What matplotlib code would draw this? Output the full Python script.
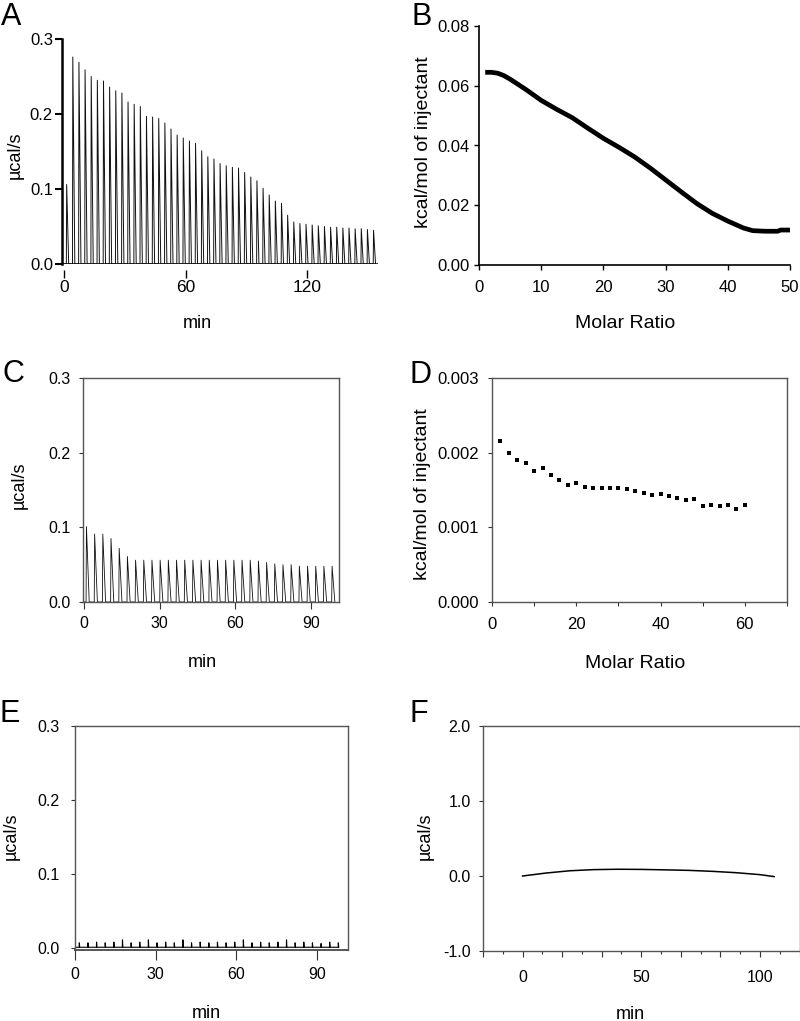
import numpy as np
import matplotlib
matplotlib.use('Agg')
from matplotlib import pyplot as plt
from matplotlib.ticker import MultipleLocator, FixedLocator, FuncFormatter

plt.rcParams['font.family'] = ['Liberation Sans', 'DejaVu Sans']
plt.rcParams['axes.unicode_minus'] = False

# ---- data ----
# A: raw thermogram, one peak per injection (min, ucal/s)
a_first, a_step = 1.3, 3.03
a_heights = [0.106, 0.276, 0.269, 0.259, 0.250, 0.245, 0.244, 0.236, 0.231, 0.228,
             0.216, 0.213, 0.210, 0.197, 0.196, 0.194, 0.188, 0.180, 0.172, 0.168,
             0.164, 0.161, 0.151, 0.143, 0.140, 0.134, 0.131, 0.129, 0.128, 0.122,
             0.116, 0.111, 0.101, 0.092, 0.084, 0.081, 0.065, 0.056, 0.054, 0.053,
             0.052, 0.051, 0.050, 0.049, 0.049, 0.048, 0.048, 0.047, 0.047, 0.046, 0.045]

# B: integrated heat vs molar ratio
b_ratio = [1, 2, 3, 4, 5, 7.5, 10, 12.5, 15, 17.5, 20, 22.5, 25, 27.5, 30, 32.5, 35,
           37.5, 40, 42.5, 44, 46, 48, 48.5, 50]
b_heat = [0.0645, 0.0645, 0.0642, 0.0634, 0.0622, 0.0588, 0.0551, 0.0521, 0.0493,
          0.0458, 0.0424, 0.0394, 0.0362, 0.0325, 0.0285, 0.0245, 0.0206, 0.0173,
          0.0147, 0.0124, 0.0115, 0.0113, 0.0113, 0.0117, 0.0117]

# C: raw thermogram
c_first, c_step = 1.06, 3.24
c_heights = [0.101, 0.091, 0.091, 0.085, 0.072, 0.061, 0.056, 0.056, 0.056, 0.056,
             0.056, 0.056, 0.056, 0.056, 0.056, 0.056, 0.056, 0.056, 0.056, 0.056,
             0.056, 0.055, 0.053, 0.051, 0.050, 0.050, 0.048, 0.048, 0.048, 0.048, 0.048]

# D: integrated heat vs molar ratio
d_ratio = [2, 4, 6, 8, 10, 12, 14, 16, 18, 20, 22, 24, 26, 28, 30, 32, 34, 36, 38, 40,
           42, 44, 46, 48, 50, 52, 54, 56, 58, 60]
d_heat = [0.00216, 0.00199, 0.00190, 0.00186, 0.00176, 0.00179, 0.00170, 0.00164,
          0.00157, 0.00159, 0.00154, 0.00153, 0.00153, 0.00153, 0.00153, 0.00151,
          0.00149, 0.00146, 0.00143, 0.00144, 0.00142, 0.00139, 0.00136, 0.00138,
          0.00128, 0.00130, 0.00128, 0.00130, 0.00125, 0.00130]

# E: control thermogram (tiny spikes)
e_first, e_step = 1.6, 3.21
e_base = 0.0012
e_heights = [0.006, 0.006, 0.007, 0.006, 0.007, 0.010, 0.006, 0.007, 0.010, 0.006,
             0.007, 0.006, 0.010, 0.006, 0.007, 0.006, 0.007, 0.006, 0.007, 0.010,
             0.006, 0.007, 0.006, 0.007, 0.010, 0.006, 0.007, 0.006, 0.005, 0.007, 0.006]

# F: baseline drift
f_time = [0, 5, 10, 20, 30, 40, 50, 60, 70, 80, 90, 100, 106]
f_power = [0.0, 0.02, 0.04, 0.07, 0.085, 0.09, 0.088, 0.082, 0.075, 0.062, 0.044, 0.018, -0.008]


def trace(first, step, heights, x0, base=0.0, rise=0.2, fall=1.0):
    xs, ys = [x0], [base]
    for i, h in enumerate(heights):
        t = first + i * step
        xs += [t - rise, t, t + fall]
        ys += [base, base + h, base]
    return np.array(xs), np.array(ys)


fig = plt.figure(figsize=(8, 10.21), dpi=100)
GRAY = '#555555'


def box(ax, fs):
    for s in ax.spines.values():
        s.set_color(GRAY)
        s.set_linewidth(1.0)
    ax.tick_params(labelsize=fs, width=0.8, color='#333333')


# ---------- A ----------
axA = fig.add_axes([62 / 800, 1 - 264 / 1021, 316 / 800, 225 / 1021])
x, y = trace(a_first, a_step, a_heights, -1, rise=0.15, fall=1.0)
axA.plot(x, y, color='#111111', lw=0.7)
axA.axhline(0, color='black', lw=1.8)
axA.set_xlim(-1, 155)
axA.set_ylim(0, 0.3)
axA.spines['top'].set_visible(False)
axA.spines['right'].set_visible(False)
axA.spines['bottom'].set_position(('outward', 4))
axA.spines['bottom'].set_visible(False)
axA.spines['left'].set_linewidth(1.8)
axA.set_xticks([0, 60, 120])
axA.set_yticks([0, 0.1, 0.2, 0.3])
axA.yaxis.set_major_formatter(FuncFormatter(lambda v, p: f'{v:.1f}'))
axA.tick_params(axis='y', length=5, width=1.5, pad=1.5, labelsize=12)
axA.tick_params(axis='x', length=5.5, width=1.0, pad=2, labelsize=12.5)
axA.set_xlabel('min', fontsize=13, va='baseline')
axA.xaxis.set_label_coords(0.427, -0.284)
axA.set_ylabel('µcal/s', fontsize=13, va='center')
axA.yaxis.set_label_coords(-0.147, 0.484)

# ---------- B ----------
axB = fig.add_axes([479 / 800, 1 - 265 / 1021, 311 / 800, 239 / 1021])
axB.plot(b_ratio, b_heat, color='black', lw=3.4, solid_capstyle='butt')
axB.set_xlim(0, 50)
axB.set_ylim(0, 0.08)
axB.spines['top'].set_visible(False)
axB.spines['right'].set_visible(False)
axB.spines['left'].set_linewidth(1.2)
axB.spines['bottom'].set_linewidth(1.2)
axB.set_xticks(range(0, 51, 10))
axB.set_yticks([0, 0.02, 0.04, 0.06, 0.08])
axB.yaxis.set_major_formatter(FuncFormatter(lambda v, p: f'{v:.2f}'))
axB.tick_params(length=3.5, width=1.0, labelsize=12)
axB.tick_params(axis='x', pad=7)
axB.tick_params(axis='y', pad=3)
axB.set_xlabel('Molar Ratio', fontsize=14, va='baseline')
axB.xaxis.set_label_coords(0.47, -0.264)
axB.set_ylabel('kcal/mol of injectant', fontsize=14, va='center')
axB.yaxis.set_label_coords(-0.18, 0.515)

# ---------- C ----------
axC = fig.add_axes([83 / 800, 1 - 602 / 1021, 256 / 800, 224 / 1021])
x, y = trace(c_first, c_step, c_heights, -0.3, rise=0.15, fall=1.1)
axC.plot(x, y, color='#111111', lw=0.6)
axC.set_xlim(-0.3, 101)
axC.set_ylim(0, 0.3)
box(axC, 11.5)
axC.set_xticks([0, 30, 60, 90])
axC.set_yticks([0, 0.1, 0.2, 0.3])
axC.yaxis.set_major_formatter(FuncFormatter(lambda v, p: f'{v:.1f}'))
axC.tick_params(axis='x', length=5, pad=5)
axC.tick_params(axis='y', length=3, pad=6)
axC.set_xlabel('min', fontsize=13, va='baseline')
axC.xaxis.set_label_coords(0.465, -0.29)
axC.set_ylabel('µcal/s', fontsize=13, va='center')
axC.yaxis.set_label_coords(-0.25, 0.522)

# ---------- D ----------
axD = fig.add_axes([492 / 800, 1 - 602 / 1021, 295 / 800, 224 / 1021])
axD.plot(d_ratio, d_heat, 's', color='black', ms=2.6, mew=0)
axD.set_xlim(0, 70)
axD.set_ylim(0, 0.003)
box(axD, 12)
axD.xaxis.set_major_locator(FixedLocator([0, 20, 40, 60]))
axD.xaxis.set_minor_locator(FixedLocator([10, 30, 50, 70]))
axD.set_yticks([0, 0.001, 0.002, 0.003])
axD.yaxis.set_major_formatter(FuncFormatter(lambda v, p: f'{v:.3f}'))
axD.tick_params(axis='x', which='both', length=3, pad=8)
axD.tick_params(axis='y', length=3, pad=6.5)
axD.set_xlabel('Molar Ratio', fontsize=14, va='baseline')
axD.xaxis.set_label_coords(0.485, -0.295)
axD.set_ylabel('kcal/mol of injectant', fontsize=14, va='center')
axD.yaxis.set_label_coords(-0.234, 0.482)

# ---------- E ----------
axE = fig.add_axes([75 / 800, 1 - 950 / 1021, 273 / 800, 224 / 1021])
x, y = trace(e_first, e_step, e_heights, 0, base=e_base, rise=0.05, fall=0.15)
axE.plot(x, y, color='black', lw=0.8)
axE.set_xlim(0, 101.5)
axE.set_ylim(-0.0025, 0.3)
box(axE, 11.5)
axE.set_xticks([0, 30, 60, 90])
axE.set_yticks([0, 0.1, 0.2, 0.3])
axE.yaxis.set_major_formatter(FuncFormatter(lambda v, p: f'{v:.1f}'))
axE.spines['bottom'].set_linewidth(1.4)
axE.tick_params(axis='x', length=7, pad=5)
axE.tick_params(axis='y', length=3, pad=8)
axE.set_xlabel('min', fontsize=13, va='baseline')
axE.xaxis.set_label_coords(0.483, -0.305)
axE.set_ylabel('µcal/s', fontsize=13, va='center')
axE.yaxis.set_label_coords(-0.233, 0.509)

# ---------- F ----------
axF = fig.add_axes([483 / 800, 1 - 951 / 1021, 316.5 / 800, 225 / 1021])
axF.plot(f_time, f_power, color='black', lw=1.1)
axF.set_xlim(-50 / 3, 350 / 3)
axF.set_ylim(-1, 2)
box(axF, 11.5)
axF.xaxis.set_major_locator(MultipleLocator(50 / 3))
axF.xaxis.set_minor_locator(MultipleLocator(50 / 6))
axF.xaxis.set_major_formatter(FuncFormatter(
    lambda v, p: f'{int(round(v))}' if int(round(v)) in (0, 50, 100) and abs(v - round(v)) < 1e-6 else ''))
axF.set_yticks([-1, 0, 1, 2])
axF.yaxis.set_major_formatter(FuncFormatter(lambda v, p: f'{v:.1f}'))
axF.tick_params(axis='x', which='major', length=4, pad=10)
axF.tick_params(axis='x', which='minor', length=2.5, width=0.8, color='#333333')
axF.tick_params(axis='y', length=3, pad=6)
axF.set_xlabel('min', fontsize=13, va='baseline')
axF.xaxis.set_label_coords(0.465, -0.302)
axF.set_ylabel('µcal/s', fontsize=13, va='center')
axF.yaxis.set_label_coords(-0.184, 0.511)

# ---------- panel letters ----------
letters = [('A', 1, 25), ('B', 411, 25), ('C', 2, 382), ('D', 410, 383),
           ('E', 0, 722), ('F', 409, 722)]
for txt, px, py in letters:
    fig.text(px / 800, 1 - py / 1021, txt, fontsize=22, ha='left', va='baseline')

fig.savefig('out.png', dpi=100)
